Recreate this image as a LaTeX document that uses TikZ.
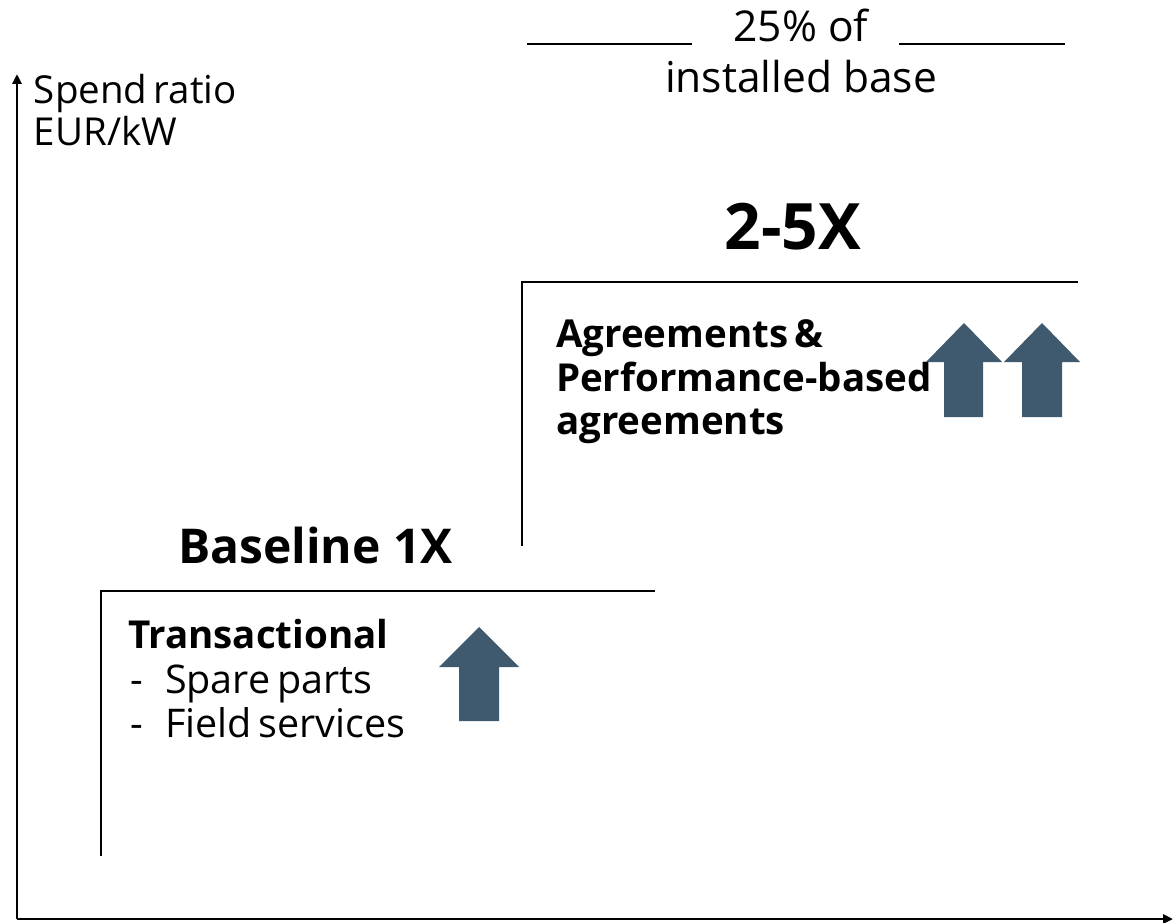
\documentclass[tikz,border=0pt]{standalone}
\usepackage{fontspec}
\setmainfont{Open Sans}
\usetikzlibrary{arrows.meta}
\definecolor{arrowblue}{RGB}{63,90,110}
\tikzset{
  axisline/.style={line width=2.6pt, -{Triangle[width=9pt,length=10pt]}},
  stepline/.style={line width=2pt},
  upshape/.style={fill=arrowblue, draw=none},
  lbl/.style={anchor=base west, inner sep=0pt, outer sep=0pt},
  clbl/.style={anchor=base, inner sep=0pt, outer sep=0pt},
  axisfont/.style={font=\fontsize{38.5}{46}\selectfont},
  topfont/.style={font=\fontsize{42.5}{50}\selectfont},
  agfont/.style={font=\fontsize{38.5}{44}\bfseries\selectfont},
  listfont/.style={font=\fontsize{39.5}{44}\selectfont},
}
\begin{document}
\begin{tikzpicture}[x=1pt,y=-1pt]
\useasboundingbox (0,0) rectangle (1173,923);
% axes
\coordinate (origin) at (17,919);
\coordinate (ytop) at (17,74);
\coordinate (xend) at (1173,919);
\draw[axisline] (origin) -- (ytop);
\draw[axisline] (origin) -- (xend);
% steps
\coordinate (s1b) at (101,856);
\coordinate (s1c) at (101,591);
\coordinate (s1e) at (655,591);
\draw[stepline] (s1b) -- (s1c) -- (s1e);
\coordinate (s2b) at (522,546);
\coordinate (s2c) at (522,282);
\coordinate (s2e) at (1078,282);
\draw[stepline] (s2b) -- (s2c) -- (s2e);
% top rules
\coordinate (r1a) at (527,44);
\coordinate (r1b) at (692,44);
\coordinate (r2a) at (899,44);
\coordinate (r2b) at (1065,44);
\draw[stepline] (r1a) -- (r1b);
\draw[stepline] (r2a) -- (r2b);
% texts
\node[lbl, axisfont] (yl1) at (34,104) {Spend\hspace{-0.1em} ratio};
\node[lbl, axisfont] (yl2) at (34,146) {EUR/kW};
\node[clbl, topfont] (t1) at (801,42) {25\% of};
\node[clbl, topfont] (t2) at (801,93) {installed base};
\node[clbl, font=\fontsize{64}{72}\bfseries\selectfont] (big) at (793,249) {2-5X};
\node[lbl, font=\fontsize{48}{56}\bfseries\selectfont] (base) at (178,563) {Baseline 1X};
\node[lbl, agfont] (ag1) at (556,347) {Agreements\hspace{-0.1em} \&};
\node[lbl, agfont] (ag2) at (556,391) {Performance-based};
\node[lbl, agfont] (ag3) at (556,434) {agreements};
\node[lbl, agfont] (tr) at (128,648) {Transactional};
\node[lbl, listfont] (d1) at (130,693) {-};
\node[lbl, listfont] (sp) at (165,693) {Spare\hspace{-0.08em} parts};
\node[lbl, listfont] (d2) at (130,737) {-};
\node[lbl, listfont] (fs) at (165,737) {Field\hspace{-0.08em} services};
% block arrows
\fill[upshape] (479,627) -- (519,667) -- (499,667) -- (499,721) -- (459,721) -- (459,667) -- (439,667) -- cycle;
\fill[upshape] (964,323) -- (1002,362) -- (983,362) -- (983,417) -- (944,417) -- (944,362) -- (926,362) -- cycle;
\fill[upshape] (1042,323) -- (1080,362) -- (1062,362) -- (1062,417) -- (1022,417) -- (1022,362) -- (1004,362) -- cycle;
\end{tikzpicture}
\end{document}
